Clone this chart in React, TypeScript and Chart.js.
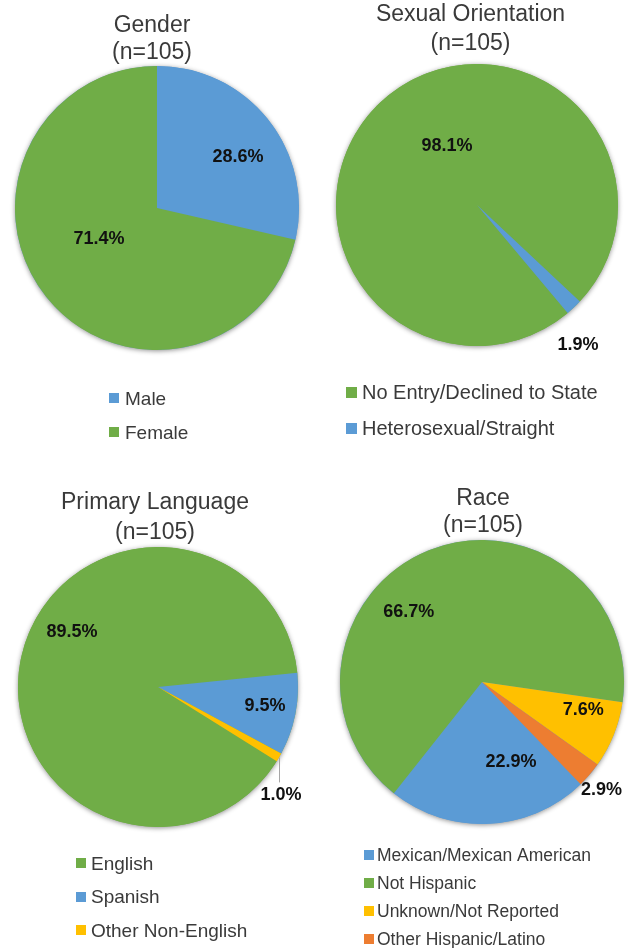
import React, { useEffect, useRef } from "react";
import { Chart, registerables } from "chart.js";

Chart.register(...registerables);

// ---------- data ----------
const sampleSize = 105;

const genderLabels = ["Male", "Female"];
const genderValues = [28.6, 71.4];

const orientationLabels = ["No Entry/Declined to State", "Heterosexual/Straight"];
const orientationValues = [98.1, 1.9];

const languageLabels = ["English", "Spanish", "Other Non-English"];
const languageValues = [89.5, 9.5, 1.0];

const raceLabels = [
  "Mexican/Mexican American",
  "Not Hispanic",
  "Unknown/Not Reported",
  "Other Hispanic/Latino",
];
const raceValues = [22.9, 66.7, 7.6, 2.9];

// ---------- styles ----------
const BLUE = "#5B9BD5";
const GREEN = "#70AD47";
const YELLOW = "#FFC000";
const ORANGE = "#ED7D31";
const FONT = "'Liberation Sans', Arial, Helvetica, sans-serif";
const TEXT = "#3a3a3a";

const W = 314;
const H = 474;

type Place = { f: number; ox: number; oy: number; leader?: number };
type Spec = {
  title: string;
  labels: string[];
  values: number[];
  colors: string[];
  left: number;
  top: number;
  cx: number;
  cy: number;
  r: number;
  rotation: number;
  titleX: number;
  titleY: [number, number];
  places: Place[];
  legend: { boxX: number; textX: number; y0: number; step: number; size: number; box: number };
};

const specs: Spec[] = [
  {
    title: "Gender",
    labels: genderLabels,
    values: genderValues,
    colors: [BLUE, GREEN],
    left: 0,
    top: 0,
    cx: 157,
    cy: 208,
    r: 142,
    rotation: 0,
    titleX: 152,
    titleY: [31.5, 59],
    places: [
      { f: 0.65, ox: 8.8, oy: 6.5 },
      { f: 0.5, ox: -2.4, oy: -13.2 },
    ],
    legend: { boxX: 109, textX: 125, y0: 398, step: 34, size: 19, box: 10 },
  },
  {
    title: "Sexual Orientation",
    labels: orientationLabels,
    values: orientationValues,
    colors: [GREEN, BLUE],
    left: 314,
    top: 0,
    cx: 163,
    cy: 205,
    r: 141,
    rotation: 140,
    titleX: 156.5,
    titleY: [21, 50],
    places: [
      { f: 0.47, ox: 15.6, oy: -10.9 },
      { f: 1.22, ox: -17.3, oy: 15.1 },
    ],
    legend: { boxX: 32, textX: 48, y0: 392, step: 36, size: 20, box: 11 },
  },
  {
    title: "Primary Language",
    labels: languageLabels,
    values: languageValues,
    colors: [GREEN, BLUE, YELLOW],
    left: 0,
    top: 474,
    cx: 158,
    cy: 213,
    r: 140,
    rotation: 122,
    titleX: 155,
    titleY: [35, 65],
    places: [
      { f: 0.7, ox: 9.5, oy: -32.8 },
      { f: 0.78, ox: 0, oy: -2 },
      { f: 1.0, ox: 2, oy: 37.6, leader: 25 },
    ],
    legend: { boxX: 76, textX: 91, y0: 389, step: 33.5, size: 19, box: 10 },
  },
  {
    title: "Race",
    labels: raceLabels,
    values: raceValues,
    colors: [BLUE, GREEN, YELLOW, ORANGE],
    left: 314,
    top: 474,
    cx: 168,
    cy: 208,
    r: 142,
    rotation: 136,
    titleX: 169,
    titleY: [31, 58],
    places: [
      { f: 0.6, ox: 24.9, oy: -5.1 },
      { f: 0.6, ox: -41.8, oy: 9.3 },
      { f: 0.74, ox: 3.8, oy: -10.8 },
      { f: 1.14, ox: -3, oy: 2.5 },
    ],
    legend: { boxX: 50, textX: 63, y0: 381, step: 28, size: 17.5, box: 10 },
  },
];

function makeDecor(spec: Spec) {
  return {
    id: "decor",
    beforeDatasetsDraw(chart: any) {
      const meta = chart.getDatasetMeta(0);
      const a0: any = meta.data[0];
      if (!a0) return;
      const ctx = chart.ctx;
      ctx.save();
      ctx.beginPath();
      ctx.arc(a0.x, a0.y, a0.outerRadius, 0, Math.PI * 2);
      ctx.fillStyle = spec.colors[0];
      ctx.shadowColor = "rgba(0,0,0,0.45)";
      ctx.shadowBlur = 5;
      ctx.shadowOffsetX = 0;
      ctx.shadowOffsetY = 1;
      ctx.fill();
      ctx.restore();
    },
    afterDraw(chart: any) {
      const ctx = chart.ctx;
      ctx.save();
      // title
      ctx.fillStyle = TEXT;
      ctx.font = `23px ${FONT}`;
      ctx.textAlign = "center";
      ctx.textBaseline = "alphabetic";
      ctx.fillText(spec.title, spec.titleX, spec.titleY[0]);
      ctx.fillText(`(n=${sampleSize})`, spec.titleX, spec.titleY[1]);

      // data labels
      const meta = chart.getDatasetMeta(0);
      ctx.font = `bold 18px ${FONT}`;
      ctx.textBaseline = "middle";
      meta.data.forEach((arc: any, i: number) => {
        const p = spec.places[i];
        const mid = (arc.startAngle + arc.endAngle) / 2;
        const R = arc.outerRadius;
        const bx = arc.x + Math.cos(mid) * R * p.f;
        const by = arc.y + Math.sin(mid) * R * p.f;
        if (p.leader) {
          ctx.strokeStyle = "#a6a6a6";
          ctx.lineWidth = 1;
          ctx.beginPath();
          ctx.moveTo(Math.round(bx) + 0.5, by);
          ctx.lineTo(Math.round(bx) + 0.5, by + p.leader);
          ctx.stroke();
        }
        ctx.fillStyle = "#111";
        ctx.fillText(spec.values[i].toFixed(1) + "%", bx + p.ox, by + p.oy);
      });

      // legend
      const lg = spec.legend;
      ctx.font = `${lg.size}px ${FONT}`;
      ctx.textAlign = "left";
      ctx.textBaseline = "alphabetic";
      spec.labels.forEach((lab, i) => {
        const c = lg.y0 + i * lg.step;
        ctx.fillStyle = spec.colors[i];
        ctx.fillRect(lg.boxX, Math.round(c - lg.box / 2), lg.box, lg.box);
        ctx.fillStyle = TEXT;
        ctx.fillText(lab, lg.textX, c + lg.size * 0.358);
      });
      ctx.restore();
    },
  };
}

function PieBlock({ spec }: { spec: Spec }) {
  const ref = useRef<HTMLCanvasElement | null>(null);
  useEffect(() => {
    if (!ref.current) return;
    const chart = new Chart(ref.current, {
      type: "pie",
      data: {
        labels: spec.labels,
        datasets: [
          {
            data: spec.values,
            backgroundColor: spec.colors,
            borderWidth: 0,
            hoverOffset: 0,
          },
        ],
      },
      options: {
        responsive: false,
        animation: false,
        devicePixelRatio: 1,
        rotation: spec.rotation,
        layout: {
          padding: {
            left: spec.cx - spec.r,
            top: spec.cy - spec.r,
            right: W - spec.cx - spec.r,
            bottom: H - spec.cy - spec.r,
          },
        },
        plugins: {
          legend: { display: false },
          title: { display: false },
          tooltip: { enabled: false },
        },
        events: [],
      } as any,
      plugins: [makeDecor(spec)],
    });
    return () => chart.destroy();
  }, [spec]);
  return (
    <canvas
      ref={ref}
      width={W}
      height={H}
      style={{ position: "absolute", left: spec.left, top: spec.top, width: W, height: H }}
    />
  );
}

export default function App() {
  return (
    <div
      style={{
        position: "absolute",
        left: 0,
        top: 0,
        width: 628,
        height: 948,
        background: "#ffffff",
        overflow: "hidden",
      }}
    >
      {specs.map((s) => (
        <PieBlock key={s.title} spec={s} />
      ))}
    </div>
  );
}
